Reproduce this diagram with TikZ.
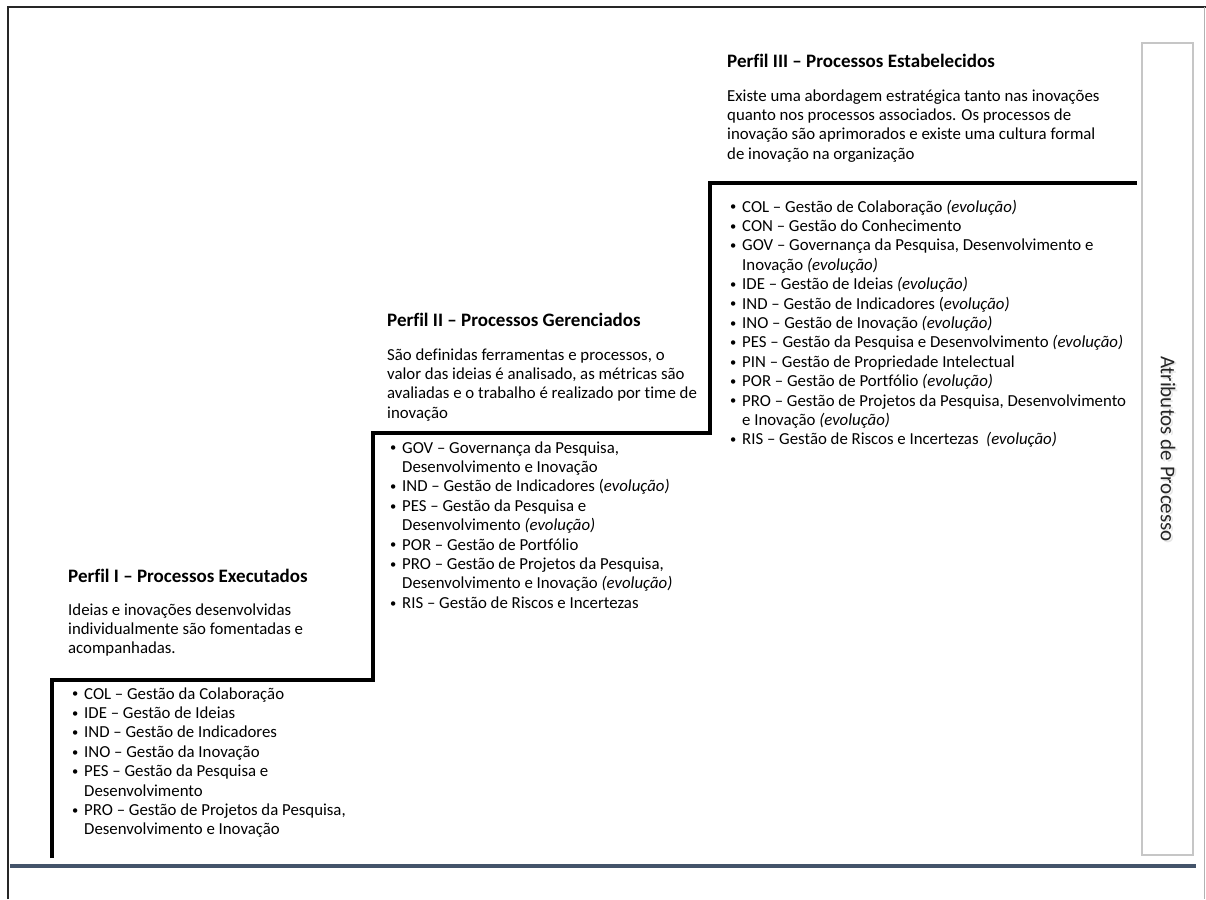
\documentclass[tikz,border=0pt]{standalone}
\usepackage{fontspec}
\setmainfont[Ligatures=NoCommon]{Carlito}
\definecolor{basecol}{RGB}{68,84,106}
\newcommand{\itm}{\makebox[12pt][l]{\raisebox{1.2pt}{\fontsize{12.5}{12.5}\selectfont\textbullet}}}
\newcommand{\cnt}{\hspace*{12pt}}
\newcommand{\evo}{\textit{(evolução)}}
\begin{document}
\begin{tikzpicture}[x=1pt,y=-1pt,
  stair/.style={line width=3.5pt, black, line join=miter},
  frameline/.style={line width=2.2pt, black!85},
  ptitle/.style={font=\fontsize{19}{19.4}\selectfont\bfseries, anchor=base west, inner sep=0pt},
  pbody/.style={font=\fontsize{16.8}{19.4}\selectfont, anchor=north west, inner sep=0pt, align=left},
  attrbox/.style={draw=gray!45, line width=1.5pt}
]
\useasboundingbox (0,0) rectangle (1206,899);
% outer frame
\draw[frameline] (8,899) -- (8,7) -- (1206,7);
\draw[gray!60, line width=1pt] (1204,7) -- (1204,899);
% bottom line
\draw[line width=3.5pt, basecol] (10,866) -- (1196,866);
% staircase
\coordinate (s0) at (52,858);
\coordinate (s1) at (52,680);
\coordinate (s2) at (373,680);
\coordinate (s3) at (373,433);
\coordinate (s4) at (710,433);
\coordinate (s5) at (710,183);
\coordinate (s6) at (1137,183);
\draw[stair] (s0) -- (s1) -- (s2) -- (s3) -- (s4) -- (s5) -- (s6);
% attribute box
\draw[attrbox] (1142,43) rectangle (1193,855);
\node[rotate=-90, font=\fontsize{21}{24}\selectfont, text=gray!20] (attrsh) at (1170,450.5) {Atributos de Processo};
\node[rotate=-90, font=\fontsize{21}{24}\selectfont, text=black!85] (attr) at (1168,449) {Atributos de Processo};

% Perfil III
\node[ptitle] (t3) at (727,67) {Perfil III – Processos Estabelecidos};
\node[pbody] (b3) at (727,87.4) {\strut Existe uma abordagem estratégica tanto nas inovações\\
quanto nos processos associados. Os processos de\\
inovação são aprimorados e existe uma cultura formal\\
de inovação na organização};
\node[pbody] (l3) at (730,198.4) {\strut\itm COL – Gestão de Colaboração \evo\\
\itm CON – Gestão do Conhecimento\\
\itm GOV – Governança da Pesquisa, Desenvolvimento e\\
\cnt Inovação \evo\\
\itm IDE – Gestão de Ideias \evo\\
\itm IND – Gestão de Indicadores (\textit{evolução)}\\
\itm INO – Gestão de Inovação \evo\\
\itm PES – Gestão da Pesquisa e Desenvolvimento \evo\\
\itm PIN – Gestão de Propriedade Intelectual\\
\itm POR – Gestão de Portfólio \evo\\
\itm PRO – Gestão de Projetos da Pesquisa, Desenvolvimento\\
\cnt e Inovação \evo\\
\itm RIS – Gestão de Riscos e Incertezas \ \evo};

% Perfil II
\node[ptitle] (t2) at (387,326) {Perfil II – Processos Gerenciados};
\node[pbody] (b2) at (387,346.4) {\strut São definidas ferramentas e processos, o\\
valor das ideias é analisado, as métricas são\\
avaliadas e o trabalho é realizado por time de\\
inovação};
\node[pbody] (l2) at (390,439.4) {\strut\itm GOV – Governança da Pesquisa,\\
\cnt Desenvolvimento e Inovação\\
\itm IND – Gestão de Indicadores (\textit{evolução)}\\
\itm PES – Gestão da Pesquisa e\\
\cnt Desenvolvimento \evo\\
\itm POR – Gestão de Portfólio\\
\itm PRO – Gestão de Projetos da Pesquisa,\\
\cnt Desenvolvimento e Inovação \evo\\
\itm RIS – Gestão de Riscos e Incertezas};

% Perfil I
\node[ptitle] (t1) at (68,582) {Perfil I – Processos Executados};
\node[pbody] (b1) at (68,601.4) {\strut Ideias e inovações desenvolvidas\\
individualmente são fomentadas e\\
acompanhadas.};
\node[pbody] (l1) at (72,685.4) {\strut\itm COL – Gestão da Colaboração\\
\itm IDE – Gestão de Ideias\\
\itm IND – Gestão de Indicadores\\
\itm INO – Gestão da Inovação\\
\itm PES – Gestão da Pesquisa e\\
\cnt Desenvolvimento\\
\itm PRO – Gestão de Projetos da Pesquisa,\\
\cnt Desenvolvimento e Inovação};
\end{tikzpicture}
\end{document}
